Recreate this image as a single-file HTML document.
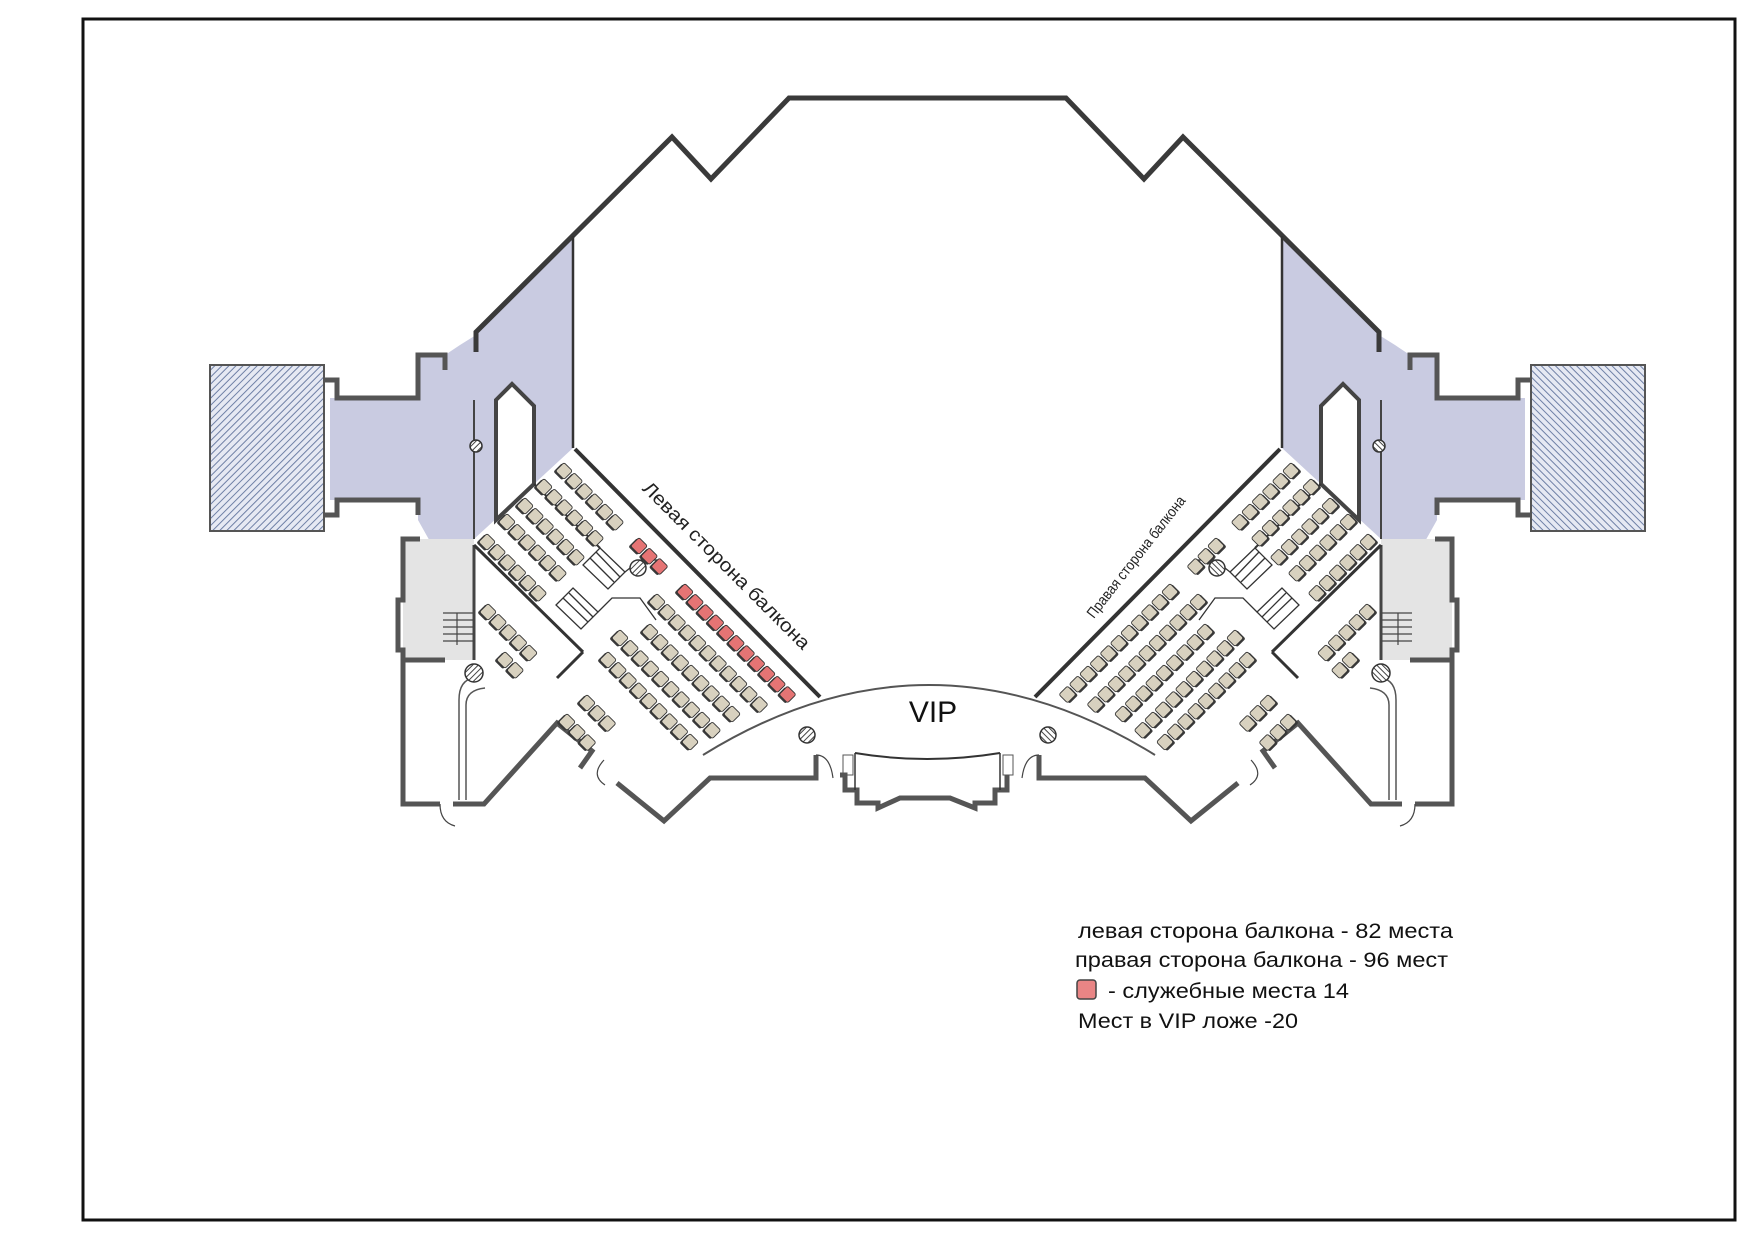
<!DOCTYPE html>
<html><head><meta charset="utf-8">
<style>
html,body{margin:0;padding:0;background:#fff;}
svg{display:block;}
text{font-family:"Liberation Sans",sans-serif;}
</style></head>
<body>
<svg xmlns="http://www.w3.org/2000/svg" width="1755" height="1240" viewBox="0 0 1755 1240">
<defs>
<pattern id="hat" width="5" height="5" patternUnits="userSpaceOnUse" patternTransform="rotate(45)">
<rect width="5" height="5" fill="#e6e9f3"/>
<line x1="0" y1="0" x2="0" y2="5" stroke="#6f80a6" stroke-width="2"/>
</pattern>
<pattern id="wh" width="4" height="4" patternUnits="userSpaceOnUse" patternTransform="rotate(45)">
<rect width="4" height="4" fill="#fff"/>
<line x1="0" y1="0" x2="0" y2="4" stroke="#444" stroke-width="2"/>
</pattern>
<g id="s"><rect x="-7" y="-4" width="12" height="12" rx="2" fill="#3a3a3a"/><rect x="-6" y="-6" width="12" height="12" rx="2" fill="#d8d1bf" stroke="#333" stroke-width="0.9"/></g>
<g id="sr"><rect x="-7" y="-4" width="12" height="12" rx="2" fill="#3a3a3a"/><rect x="-6" y="-6" width="12" height="12" rx="2" fill="#e57474" stroke="#333" stroke-width="0.9"/></g>
<g id="r2"><use href="#s" x="0"/><use href="#s" x="14.5"/></g>
<g id="r3"><use href="#r2"/><use href="#s" x="29"/></g>
<g id="r5"><use href="#r3"/><use href="#s" x="43.5"/><use href="#s" x="58"/></g>
<g id="r6"><use href="#r5"/><use href="#s" x="72.5"/></g>
<g id="r9"><use href="#r6"/><use href="#s" x="87"/><use href="#s" x="101.5"/><use href="#s" x="116"/></g>
<g id="r10"><use href="#r9"/><use href="#s" x="130.5"/></g>
<g id="r11"><use href="#r10"/><use href="#s" x="145"/></g>
<g id="rr3"><use href="#sr" x="0"/><use href="#sr" x="14.5"/><use href="#sr" x="29"/></g>
<g id="rr11"><use href="#rr3"/><use href="#sr" x="43.5"/><use href="#sr" x="58"/><use href="#sr" x="72.5"/><use href="#sr" x="87"/><use href="#sr" x="101.5"/><use href="#sr" x="116"/><use href="#sr" x="130.5"/><use href="#sr" x="145"/></g>
<g id="rows">
  <use href="#r6" transform="translate(564,471) rotate(45)"/>
  <use href="#r6" transform="translate(544,487) rotate(45)"/>
  <use href="#r6" transform="translate(525,506) rotate(45)"/>
  <use href="#r6" transform="translate(507,522) rotate(45)"/>
  <use href="#r6" transform="translate(487,542) rotate(45)"/>
  <use href="#r5" transform="translate(488,612) rotate(45)"/>
  <use href="#r2" transform="translate(505,660) rotate(45)"/>
  <use href="#r11" transform="translate(657,602) rotate(45)"/>
  <use href="#r9" transform="translate(650,632) rotate(45)"/>
  <use href="#r10" transform="translate(620,638) rotate(45)"/>
  <use href="#r9" transform="translate(608,660) rotate(45)"/>
  <use href="#r3" transform="translate(587,703) rotate(45)"/>
  <use href="#r3" transform="translate(567,722) rotate(45)"/>
</g>
<g id="half">
  <polygon points="476,335 573,236 573,448 534,484 474,539 462,562 449,569 432,545 418,520 418,500 330,500 330,398 418,398 418,355 445,355 460,345" fill="#c9cbe1"/>
  <polygon points="496,400 512,384 534,406 534,484 496,520" fill="#fff" stroke="#444" stroke-width="4"/>
  <rect x="403" y="539" width="71" height="121" fill="#e4e4e4"/>
  <rect x="210" y="365" width="114" height="166" fill="url(#hat)" stroke="#555" stroke-width="2"/>
  <polyline points="929,98 789,98 711,179 672,137 476,332 476,352" fill="none" stroke="#3a3a3a" stroke-width="5"/>
  <line x1="573" y1="236" x2="573" y2="448" stroke="#333" stroke-width="2.5"/>
  <polyline points="324,380 337,380 337,398 418,398 418,355 445,355 445,370" fill="none" stroke="#555" stroke-width="5"/>
  <polyline points="324,515 337,515 337,500 418,500 418,515" fill="none" stroke="#555" stroke-width="5"/>
  <polyline points="420,539 403,539 403,600 398,600 398,650 403,650 403,804 440,804" fill="none" stroke="#555" stroke-width="5"/>
  <polyline points="453,804 484,804 557,723 592,751 580,768" fill="none" stroke="#555" stroke-width="5"/>
  <polyline points="617,783 664,821 710,778 816,778 816,755" fill="none" stroke="#555" stroke-width="5"/>
  <line x1="403" y1="660" x2="445" y2="660" stroke="#555" stroke-width="5"/>
  <line x1="474" y1="545" x2="474" y2="660" stroke="#444" stroke-width="3"/>
  <line x1="474" y1="400" x2="474" y2="539" stroke="#444" stroke-width="2"/>
  <path d="M459,800 L459,700 Q459,680 474,678" fill="none" stroke="#555" stroke-width="1.5"/>
  <path d="M466,800 L466,705 Q466,690 485,688" fill="none" stroke="#555" stroke-width="1.5"/>
  <g stroke="#444" stroke-width="1.2"><line x1="443" y1="613" x2="474" y2="613"/><line x1="443" y1="620" x2="474" y2="620"/><line x1="443" y1="627" x2="474" y2="627"/><line x1="443" y1="634" x2="474" y2="634"/><line x1="443" y1="641" x2="474" y2="641"/><line x1="457" y1="613" x2="457" y2="645"/></g>
  <line x1="575" y1="449" x2="820" y2="697" stroke="#333" stroke-width="4"/>
  <line x1="474" y1="545" x2="583" y2="652" stroke="#333" stroke-width="3"/>
  <line x1="583" y1="652" x2="557" y2="678" stroke="#333" stroke-width="3"/>
  <line x1="534" y1="484" x2="600" y2="548" stroke="#333" stroke-width="2"/>
  <g fill="none" stroke="#333" stroke-width="1.3">
   <polygon points="600,548 625,572 608,589 583,565"/>
   <line x1="590" y1="558" x2="614" y2="582"/><line x1="596" y1="552" x2="620" y2="577"/>
   <polygon points="573,588 598,612 581,629 556,605"/>
   <line x1="563" y1="598" x2="588" y2="622"/><line x1="569" y1="593" x2="593" y2="617"/>
   <polyline points="625,572 640,560 660,560"/>
   <polyline points="598,612 612,598 640,598 656,620"/>
  </g>
  <circle cx="476" cy="446" r="6" fill="url(#wh)" stroke="#333" stroke-width="1.5"/>
  <circle cx="474" cy="673" r="9" fill="url(#wh)" stroke="#333" stroke-width="1.5"/>
  <circle cx="807" cy="735" r="8" fill="url(#wh)" stroke="#333" stroke-width="1.5"/>
  <circle cx="638" cy="568" r="8" fill="url(#wh)" stroke="#333" stroke-width="1.5"/>
  <path d="M604,760 Q590,775 605,785" fill="none" stroke="#444" stroke-width="1.2"/>
  <path d="M440,804 Q440,822 455,826" fill="none" stroke="#444" stroke-width="1.2"/>
  <path d="M816,755 Q830,755 833,778" fill="none" stroke="#444" stroke-width="1.2"/>
  <use href="#rows"/>
</g>
</defs>

<rect x="83" y="19" width="1652" height="1201" fill="none" stroke="#111" stroke-width="3"/>

<use href="#half"/>
<use href="#half" transform="translate(1855,0) scale(-1,1)"/>

<use href="#rr3" transform="translate(639,546) rotate(45)"/>
<use href="#rr11" transform="translate(685,592) rotate(45)"/>
<g transform="translate(1855,0) scale(-1,1)">
<use href="#r3" transform="translate(639,546) rotate(45)"/>
<use href="#r11" transform="translate(685,592) rotate(45)"/>
</g>

<path d="M703,755 Q929,615 1155,755" fill="none" stroke="#555" stroke-width="2"/>
<polyline points="840,775 845,775 845,790 857,790 857,803 878,803 878,808 900,798 950,798 975,808 975,803 995,803 995,790 1007,790 1007,775" fill="none" stroke="#555" stroke-width="5"/>
<path d="M855,753 Q927,765 1000,753" fill="none" stroke="#333" stroke-width="2"/>
<line x1="855" y1="753" x2="855" y2="790" stroke="#333" stroke-width="1.5"/>
<line x1="1000" y1="753" x2="1000" y2="790" stroke="#333" stroke-width="1.5"/>
<rect x="843" y="755" width="10" height="20" fill="none" stroke="#555" stroke-width="1"/>
<rect x="1003" y="755" width="10" height="20" fill="none" stroke="#555" stroke-width="1"/>

<text x="933" y="722" font-size="30" text-anchor="middle" fill="#111">VIP</text>
<text x="0" y="0" font-size="19" text-anchor="middle" fill="#222" transform="translate(722,570) rotate(45)" textLength="228" lengthAdjust="spacingAndGlyphs">Левая сторона балкона</text>
<text x="0" y="0" font-size="15" text-anchor="middle" fill="#222" transform="translate(1140,560) rotate(-52)" textLength="150" lengthAdjust="spacingAndGlyphs">Правая сторона балкона</text>

<g font-size="21" fill="#111">
<text x="1078" y="938" textLength="375" lengthAdjust="spacingAndGlyphs">левая сторона балкона - 82 места</text>
<text x="1075" y="967" textLength="373" lengthAdjust="spacingAndGlyphs">правая сторона балкона - 96 мест</text>
<rect x="1077" y="980" width="19" height="19" rx="3" fill="#e98585" stroke="#444" stroke-width="1.5"/>
<text x="1108" y="998" textLength="241" lengthAdjust="spacingAndGlyphs">- служебные места 14</text>
<text x="1078" y="1028" textLength="220" lengthAdjust="spacingAndGlyphs">Мест в VIP ложе -20</text>
</g>
</svg>
</body></html>
